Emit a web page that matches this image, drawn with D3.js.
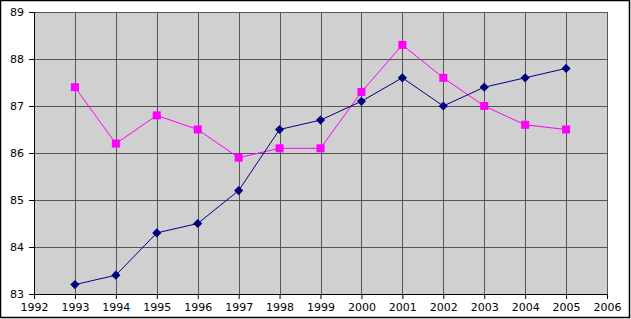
<!DOCTYPE html>
<html>
<head>
<meta charset="utf-8">
<script src="https://cdn.jsdelivr.net/npm/d3@7"></script>
<style>
body { margin: 0; background: #fff; }
text { font-family: "DejaVu Sans", sans-serif; font-size: 11px; fill: #000; }
</style>
</head>
<body>
<div id="viz"></div>
<script>
// chart data
var years = [1993, 1994, 1995, 1996, 1997, 1998, 1999, 2000, 2001, 2002, 2003, 2004, 2005];
var blueValues = [83.2, 83.4, 84.3, 84.5, 85.2, 86.5, 86.7, 87.1, 87.6, 87.0, 87.4, 87.6, 87.8];
var pinkValues = [87.4, 86.2, 86.8, 86.5, 85.9, 86.1, 86.1, 87.3, 88.3, 87.6, 87.0, 86.6, 86.5];
var xTicks = d3.range(1992, 2007);
var yTicks = [83, 84, 85, 86, 87, 88, 89];

var width = 631, height = 319;
var plotLeft = 34, plotRight = 607, plotTop = 12, plotBottom = 294;

var svg = d3.select("#viz").append("svg")
	.attr("width", width)
	.attr("height", height);

// outer frame
svg.append("rect")
	.attr("x", 0.5).attr("y", 0.5)
	.attr("width", 629).attr("height", 317)
	.attr("fill", "white")
	.attr("stroke", "black")
	.attr("stroke-width", 1.5);

var x = d3.scaleLinear().domain([1992, 2006]).range([plotLeft, plotRight]);
var y = d3.scaleLinear().domain([83, 89]).range([plotBottom, plotTop]);

svg.append("rect")
	.attr("x", plotLeft).attr("y", plotTop)
	.attr("width", plotRight - plotLeft).attr("height", plotBottom - plotTop)
	.attr("fill", "#d0d0d0");

// grid
svg.append("g").selectAll("line")
	.data(xTicks.slice(1))
	.enter().append("line")
		.attr("x1", function (d) { return Math.round(x(d)) + 0.5; })
		.attr("x2", function (d) { return Math.round(x(d)) + 0.5; })
		.attr("y1", plotTop).attr("y2", plotBottom)
		.attr("stroke", "#555");
svg.append("g").selectAll("line")
	.data(yTicks.slice(1))
	.enter().append("line")
		.attr("y1", function (d) { return Math.round(y(d)) + 0.5; })
		.attr("y2", function (d) { return Math.round(y(d)) + 0.5; })
		.attr("x1", plotLeft).attr("x2", plotRight)
		.attr("stroke", "#555");

// axes
var xAxis = svg.append("g")
	.attr("transform", "translate(0," + plotBottom + ")")
	.call(d3.axisBottom(x).tickValues(xTicks).tickFormat(d3.format("d")).tickSizeInner(5).tickSizeOuter(0).tickPadding(4));
var yAxis = svg.append("g")
	.attr("transform", "translate(" + plotLeft + ",0)")
	.call(d3.axisLeft(y).tickValues(yTicks).tickFormat(d3.format("d")).tickSizeInner(5).tickSizeOuter(0).tickPadding(5));
[xAxis, yAxis].forEach(function (a) {
	a.selectAll("text").style("font-family", "DejaVu Sans, sans-serif").style("font-size", "11px");
	a.select(".domain").attr("stroke", "black");
	a.selectAll(".tick line").attr("stroke", "black");
});

// series
function drawSeries(values, color, size, angle) {
	var pts = years.map(function (d, i) { return [x(d), y(values[i])]; });
	svg.append("path")
		.attr("d", d3.line()(pts))
		.attr("fill", "none")
		.attr("stroke", color)
		.attr("stroke-width", 1);
	svg.append("g").selectAll("path")
		.data(pts)
		.enter().append("path")
			.attr("transform", function (d) { return "translate(" + d[0] + "," + d[1] + ") rotate(" + angle + ")"; })
			.attr("d", d3.symbol().type(d3.symbolSquare).size(size))
			.attr("fill", color);
}
drawSeries(pinkValues, "#ff00ff", 64, 0);
drawSeries(blueValues, "#000080", 42, 45);
</script>
</body>
</html>
